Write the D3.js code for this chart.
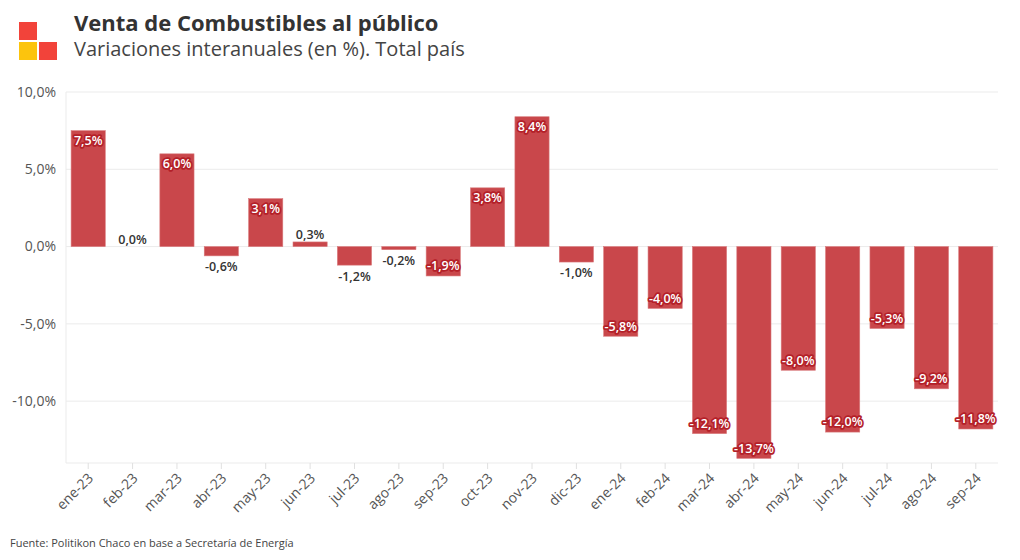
<!DOCTYPE html>
<html><head><meta charset="utf-8">
<script src="https://cdn.jsdelivr.net/npm/d3@7"></script>
<style>body{margin:0;background:#fff;font-family:"Open Sans",Roboto,sans-serif;}</style>
</head><body>
<svg id="c" width="1020" height="560"></svg>
<script>
const categories = ["ene-23","feb-23","mar-23","abr-23","may-23","jun-23","jul-23","ago-23","sep-23","oct-23","nov-23","dic-23","ene-24","feb-24","mar-24","abr-24","may-24","jun-24","jul-24","ago-24","sep-24"];
const values = [7.5,0.0,6.0,-0.6,3.1,0.3,-1.2,-0.2,-1.9,3.8,8.4,-1.0,-5.8,-4.0,-12.1,-13.7,-8.0,-12.0,-5.3,-9.2,-11.8];
const yTicks = [10,5,0,-5,-10];

const svg = d3.select("#c");
const m = {l:66, r:998, t:92, b:463};
const fmt = v => d3.format(".1f")(v).replace(".", ",").replace("\u2212", "-") + "%";

// logo
const logo = [{x:19,y:22,c:"#f2433a"},{x:19,y:42,c:"#fcc40d"},{x:39,y:42,c:"#f2433a"}];
svg.selectAll("rect.logo").data(logo).enter().append("rect")
  .attr("x",d=>d.x).attr("y",d=>d.y).attr("width",18).attr("height",18).attr("fill",d=>d.c);

svg.append("text").attr("x",74).attr("y",31).attr("font-size",22).attr("font-weight",700)
  .attr("fill","#333").text("Venta de Combustibles al público");
svg.append("text").attr("x",74).attr("y",56).attr("font-size",20).attr("fill","#444")
  .text("Variaciones interanuales (en %). Total país");

const x = d3.scaleBand().domain(categories).range([m.l, m.r]).paddingInner(0.23).paddingOuter(0.115);
const y = d3.scaleLinear().domain([-14, 10]).range([m.b, m.t]);

// gridlines
svg.append("g").selectAll("line").data(yTicks).enter().append("line")
  .attr("x1",m.l).attr("x2",m.r).attr("y1",d=>y(d)).attr("y2",d=>y(d))
  .attr("stroke","#ebebeb").attr("stroke-width",1);
svg.append("line").attr("x1",m.l).attr("x2",m.r).attr("y1",m.b).attr("y2",m.b).attr("stroke","#ebebeb");
svg.append("line").attr("x1",m.l).attr("x2",m.l).attr("y1",m.t).attr("y2",m.b).attr("stroke","#ebebeb");

// y axis labels
svg.append("g").selectAll("text").data(yTicks).enter().append("text")
  .attr("x",56).attr("y",d=>y(d)).attr("dy","0.35em").attr("text-anchor","end")
  .attr("font-size",14).attr("fill","#555").text(d=>fmt(d));

// x axis
const xa = svg.append("g").attr("transform",`translate(0,${m.b})`)
  .call(d3.axisBottom(x).tickSize(6).tickSizeOuter(0));
xa.select(".domain").remove();
xa.selectAll(".tick line").attr("stroke","#e0e0e0");
xa.selectAll(".tick text").attr("font-size",14).attr("fill","#555")
  .attr("font-family","'Open Sans',Roboto,sans-serif")
  .attr("text-anchor","end").attr("dy",0).attr("y",0)
  .attr("transform","translate(6,16) rotate(-45)");

// bars
svg.append("g").selectAll("rect").data(values).enter().append("rect")
  .attr("x",(d,i)=>x(categories[i])).attr("width",x.bandwidth())
  .attr("y",d=>y(Math.max(0,d))).attr("height",d=>Math.abs(y(d)-y(0)))
  .attr("fill","#c9474b").attr("stroke","#d97a7c").attr("stroke-width",0.6);

// labels
svg.append("g").selectAll("text").data(values).enter().append("text")
  .attr("x",(d,i)=>x(categories[i])+x.bandwidth()/2)
  .attr("text-anchor","middle").attr("dy","0.35em").attr("font-size",12.5).attr("font-weight",600)
  .each(function(d){
    const inside = Math.abs(d) >= 1.5;
    const t = d3.select(this);
    let yy;
    if (inside) {
      yy = d >= 0 ? y(d) + 10 : y(d) - 10;
      t.attr("fill","#fff").attr("stroke","#b42028").attr("stroke-width",3.5)
       .attr("paint-order","stroke").attr("stroke-linejoin","round");
    } else {
      yy = d >= 0 ? y(d) - 7 : y(d) + 11;
      t.attr("fill","#333");
    }
    t.attr("y",yy);
  })
  .text(d=>fmt(d));

svg.append("text").attr("x",10).attr("y",547).attr("font-size",11).attr("fill","#444")
  .text("Fuente: Politikon Chaco en base a Secretaría de Energía");
</script>
</body></html>
